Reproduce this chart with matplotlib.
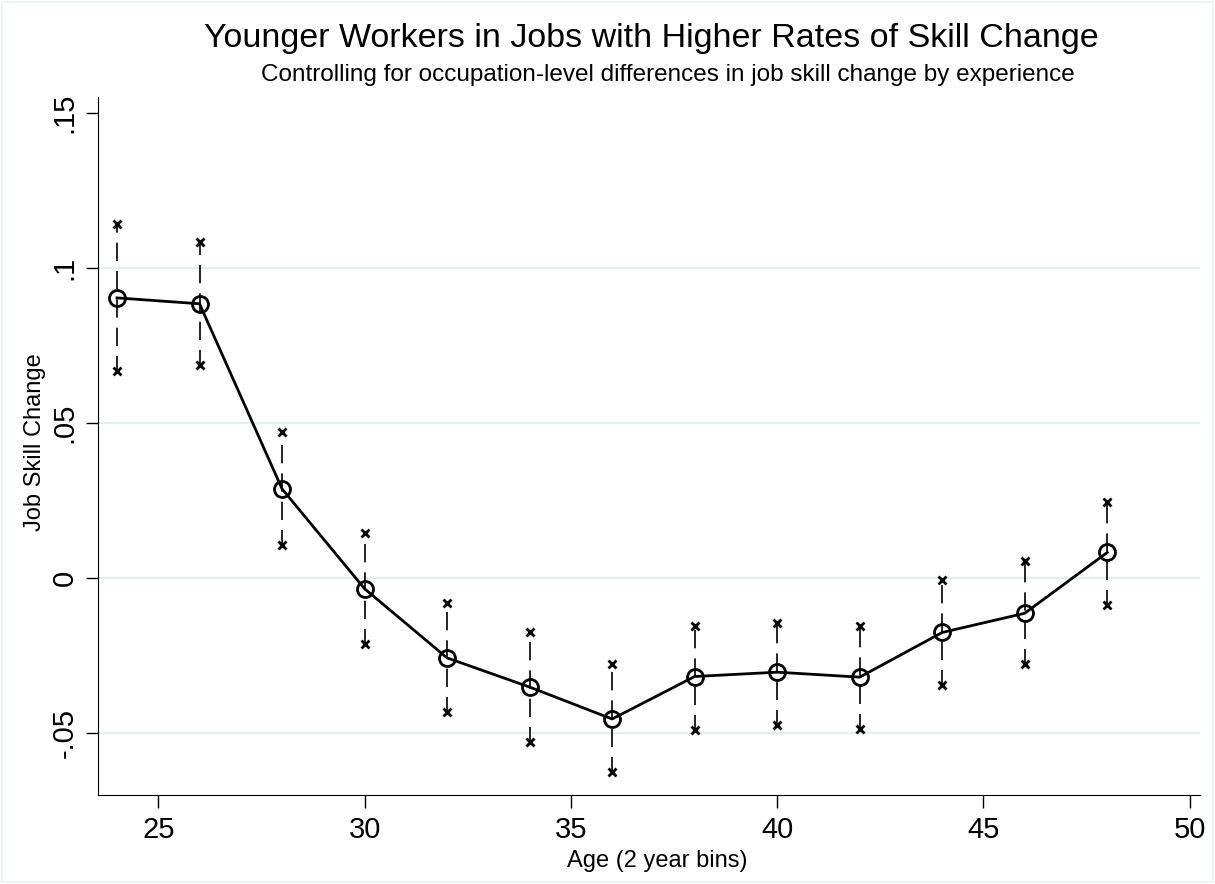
import matplotlib
matplotlib.use("Agg")
import matplotlib.pyplot as plt
from matplotlib.patches import Rectangle

plt.rcParams["font.family"] = ["Liberation Sans", "DejaVu Sans"]

# age bins (2 year bins)
age = [24, 26, 28, 30, 32, 34, 36, 38, 40, 42, 44, 46, 48]
# point estimates
est = [0.0903, 0.0884, 0.0287, -0.0035, -0.0258, -0.0352, -0.0455,
       -0.0318, -0.0304, -0.0320, -0.0176, -0.0114, 0.0082]
# confidence bounds
upper = [0.1141, 0.1083, 0.0470, 0.0145, -0.0081, -0.0174, -0.0277,
         -0.0155, -0.0145, -0.0155, -0.0006, 0.0054, 0.0246]
lower = [0.0666, 0.0687, 0.0106, -0.0213, -0.0432, -0.0529, -0.0626,
         -0.0490, -0.0474, -0.0487, -0.0345, -0.0278, -0.0087]

xticks = [25, 30, 35, 40, 45, 50]
yticks = [-0.05, 0, 0.05, 0.1, 0.15]
ytick_labels = ["-.05", "0", ".05", ".1", ".15"]
grid_vals = [-0.05, 0, 0.05, 0.1]

fig = plt.figure(figsize=(12.15, 8.84), dpi=100)
ax = fig.add_axes([0.0807, 0.1007, 0.907, 0.7893])

# light graph-region border
fig.patches.append(Rectangle((0.002, 0.002), 0.996, 0.996, transform=fig.transFigure,
                             fill=False, edgecolor="#eaf2f3", linewidth=1.2))

for g in grid_vals:
    ax.axhline(g, color="#e6eef0", linewidth=1.6, zorder=0)

# confidence intervals: dashed spikes with x caps
ax.vlines(age, lower, upper, colors="black", linewidth=1.2,
          linestyles=(2, (11, 6)), zorder=2)
ax.plot(age, upper, linestyle="none", marker="x", color="black",
        markersize=6, markeredgewidth=2.0, zorder=3)
ax.plot(age, lower, linestyle="none", marker="x", color="black",
        markersize=6, markeredgewidth=2.0, zorder=3)

ax.plot(age, est, color="black", linewidth=2.0, marker="o", markersize=11.5,
        markerfacecolor="none", markeredgewidth=2.0, zorder=4)

ax.set_xlim(23.54, 50.25)
ax.set_ylim(-0.07, 0.155)
ax.set_xticks(xticks)
ax.set_yticks(yticks)
ax.set_yticklabels(ytick_labels, rotation=90, va="center")
ax.tick_params(axis="both", direction="out", length=9, width=1, labelsize=21)
ax.tick_params(axis="x", pad=6)
ax.tick_params(axis="y", pad=5)

ax.spines["top"].set_visible(False)
ax.spines["right"].set_visible(False)

fig.text(657 / 1215, 1 - 861 / 884, "Age (2 year bins)", ha="center", va="center", fontsize=17)
fig.text(35 / 1215, 1 - 442 / 884, "Job Skill Change", ha="center", va="center",
         rotation=90, fontsize=17)

fig.text(0.536, 0.957, "Younger Workers in Jobs with Higher Rates of Skill Change",
         ha="center", va="center", fontsize=24.5)
fig.text(0.550, 0.915, "Controlling for occupation-level differences in job skill change by experience",
         ha="center", va="center", fontsize=17.5)

fig.savefig("out.png", dpi=100)
